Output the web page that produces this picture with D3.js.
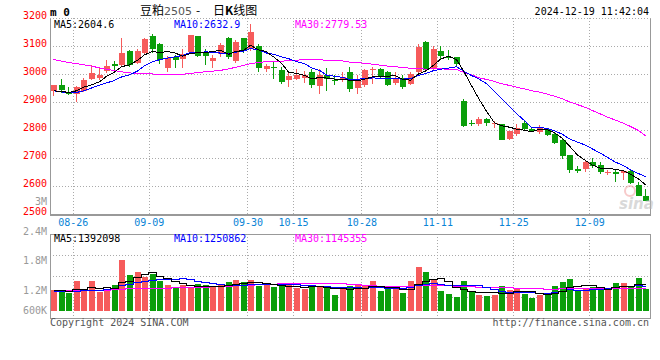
<!DOCTYPE html>
<html>
<head>
<meta charset="utf-8">
<script src="https://cdn.jsdelivr.net/npm/d3@7"></script>
<style>
  body { margin: 0; background: #fff; }
  svg text { font-family: "DejaVu Sans Mono", monospace; }
</style>
</head>
<body>
<svg id="chart" width="660" height="360"></svg>
<script>
// trading days shown on the chart
const dates = [
  '08-21','08-22','08-23','08-26','08-27','08-28','08-29','08-30','09-02','09-03',
  '09-04','09-05','09-06','09-09','09-10','09-11','09-12','09-13','09-18','09-19',
  '09-20','09-23','09-24','09-25','09-26','09-27','09-30','10-08','10-09','10-10',
  '10-11','10-14','10-15','10-16','10-17','10-18','10-21','10-22','10-23','10-24',
  '10-25','10-28','10-29','10-30','10-31','11-01','11-04','11-05','11-06','11-07',
  '11-08','11-11','11-12','11-13','11-14','11-15','11-18','11-19','11-20','11-21',
  '11-22','11-25','11-26','11-27','11-28','11-29','12-02','12-03','12-04','12-05',
  '12-06','12-09','12-10','12-11','12-12','12-13','12-16','12-17','12-18'
];

const opens = [
  2939,2960,2934,2928,2939,2981,2984,3011,3037,3031,
  3081,3041,3074,3134,3106,3022,3060,3053,3080,3134,
  3077,3046,3070,3128,3046,3128,3088,3100,3017,3026,
  3013,2980,2981,2985,3008,2957,2997,2980,2978,3007,
  2950,2960,3015,3017,3007,2969,2986,2963,3008,3114,
  3019,3081,3060,3060,2902,2826,2821,2840,2822,2821,
  2769,2785,2825,2803,2792,2803,2786,2765,2709,2661,
  2661,2686,2676,2649,2650,2646,2652,2604,2566
];
const highs = [
  2962,2981,2952,2957,2985,3031,3022,3049,3045,3130,
  3084,3090,3128,3144,3110,3066,3068,3088,3140,3136,
  3090,3068,3110,3132,3120,3130,3177,3108,3036,3043,
  3025,3007,3019,3010,3018,3019,3021,2995,3007,3025,
  2995,3019,3025,3022,3012,3007,2995,3007,3108,3118,
  3100,3100,3086,3062,2910,2836,2848,2843,2833,2823,
  2797,2821,2832,2806,2819,2807,2790,2770,2712,2673,
  2688,2700,2685,2658,2658,2658,2656,2613,2590
];
const lows = [
  2921,2932,2925,2900,2936,2978,2977,3005,3013,3025,
  3026,3036,3070,3075,3035,3006,3022,3022,3078,3060,
  3033,3022,3062,3055,3040,3075,3082,3007,3008,2983,
  2966,2954,2977,2968,2950,2927,2941,2960,2972,2936,
  2930,2954,2966,2985,2958,2960,2948,2960,3005,3010,
  3012,3055,3050,3030,2810,2816,2816,2813,2807,2763,
  2765,2777,2800,2794,2787,2780,2750,2695,2645,2646,
  2649,2664,2643,2640,2616,2620,2608,2565,2545
];
const closes = [
  2960,2942,2930,2953,2978,3002,2998,3027,3029,3075,
  3033,3081,3124,3091,3050,3058,3050,3070,3138,3065,
  3066,3057,3102,3060,3116,3085,3150,3020,3028,3023,
  2972,2992,2995,2995,2960,2995,2983,2977,2990,2945,
  2983,3013,3018,2989,2960,2986,2954,3001,3098,3013,
  3088,3064,3057,3035,2813,2823,2840,2825,2825,2765,
  2795,2807,2805,2797,2812,2783,2753,2706,2658,2653,
  2685,2671,2650,2651,2643,2655,2611,2566,2548
];
const volumes = [
  1060000,1060000,920000,1520000,1060000,1520000,970000,1100000,1320000,2600000,
  1830000,1980000,1730000,1920000,1520000,1320000,1180000,1320000,1230000,1370000,
  1320000,1230000,1320000,1470000,1570000,1470000,1570000,1280000,1320000,1220000,
  1270000,1440000,1200000,1150000,1320000,1230000,1300000,810000,1150000,1270000,
  1320000,1270000,1520000,1010000,1150000,1120000,920000,1520000,2260000,1980000,
  1610000,1010000,870000,700000,1520000,970000,810000,750000,810000,1270000,
  1060000,1150000,870000,670000,810000,920000,1270000,1470000,1630000,1060000,
  1150000,1230000,1150000,1060000,1440000,1440000,1270000,1690000,1150000
];

const ma5Head = [2940, 2938, 2934, 2940];
const ma10Head = [2940, 2936, 2933, 2934, 2940, 2950, 2960, 2968, 2977];
const ma30Head = [3052,3046,3041,3037,3033,3028,3022,3017,3012,3008,3004,3002,3001,3000,2999,
                  2999,2998,2999,3002,3005,3008,3010,3013,3018,3024,3031,3037,3041,3044];
const volMa5Head = [1060000, 1060000, 1050000, 1120000];
const volMa10Head = [1010000,1010000,1020000,1040000,1060000,1080000,1100000,1120000,1160000];
const volMa30Head = [1060000,1060000,1060000,1070000,1070000,1080000,1080000,1090000,1130000,1150000,
                     1160000,1170000,1180000,1190000,1190000,1200000,1210000,1220000,1230000,1240000,
                     1250000,1260000,1270000,1290000,1310000,1330000,1350000,1370000,1390000];

const priceTicks = [2500, 2600, 2700, 2800, 2900, 3000, 3100, 3200];
const volTicks = [600000, 1200000, 1800000, 2400000, 3000000];
const volTickLabels = ['600K', '1.2M', '1.8M', '2.4M', '3M'];
const dateTicks = ['08-26', '09-09', '09-30', '10-15', '10-28', '11-11', '11-25', '12-09'];
const priceLegend = ['MA5:2604.6', 'MA10:2632.9', 'MA30:2779.53'];
const volLegend = ['MA5:1392098', 'MA10:1250862', 'MA30:1145355'];

const RED = '#f65b5b', GREEN = '#0a9e0a', GRID = '#aaa', FRAME = '#999';
const maColors = ['#000', '#0000ff', '#ff00ff'];

const left = 50, right = 650;
const priceTop = 18, priceBottom = 214;
const volTop = 234, volBottom = 318, volBase = 311;

const svg = d3.select('#chart');

function movingAvg(values, n, head) {
  return values.map((v, i) => i < head.length ? head[i] : d3.mean(values.slice(i - n + 1, i + 1)));
}

const xs = d3.scaleLinear().domain([0, dates.length]).range([left, right]);
const barW = 6;
const barX = i => Math.round(xs(i) + 1);
const cx = i => barX(i) + barW / 2;
const y = d3.scaleLinear().domain([2500, 3200]).range([priceBottom, priceTop]);
const yVol = d3.scaleLinear().domain([0, 4000000]).range([volBase, volBase - 78]);
const yVolLabel = d3.scaleLinear().domain([1200000, 2400000]).range([293.7, 234.7]);

const dateIdx = dateTicks.map(d => dates.indexOf(d));

// ---------- grid & frames ----------
const grid = svg.append('g').attr('shape-rendering', 'crispEdges');
priceTicks.filter(v => v > 2500).forEach(v => {
  grid.append('line').attr('x1', left).attr('x2', right)
    .attr('y1', Math.round(y(v)) + 0.5).attr('y2', Math.round(y(v)) + 0.5)
    .attr('stroke', GRID).attr('stroke-dasharray', '1,2');
});
dateIdx.forEach(i => {
  const gx = Math.round(xs(i)) + 0.5;
  grid.append('line').attr('x1', gx).attr('x2', gx).attr('y1', priceTop).attr('y2', priceBottom)
    .attr('stroke', GRID).attr('stroke-dasharray', '1,2');
  grid.append('line').attr('x1', gx).attr('x2', gx).attr('y1', volTop).attr('y2', volBottom)
    .attr('stroke', GRID).attr('stroke-dasharray', '1,2');
});
d3.range(1, 4).forEach(k => {
  const gy = Math.round(volTop + (volBottom - volTop) * k / 4) + 0.5;
  grid.append('line').attr('x1', left).attr('x2', right).attr('y1', gy).attr('y2', gy)
    .attr('stroke', GRID).attr('stroke-dasharray', '1,2');
});

// ---------- candles ----------
const candles = svg.append('g').attr('shape-rendering', 'crispEdges');
const cand = candles.selectAll('g').data(dates.map((d, i) => i)).enter().append('g')
  .attr('fill', i => closes[i] >= opens[i] ? RED : GREEN);
cand.append('rect')
  .attr('x', i => barX(i) + 2).attr('width', 1)
  .attr('y', i => Math.round(y(highs[i])))
  .attr('height', i => Math.max(1, Math.round(y(lows[i])) - Math.round(y(highs[i]))));
cand.append('rect')
  .attr('x', i => barX(i)).attr('width', barW)
  .attr('y', i => Math.round(y(Math.max(opens[i], closes[i]))))
  .attr('height', i => Math.max(1, Math.round(y(Math.min(opens[i], closes[i]))) - Math.round(y(Math.max(opens[i], closes[i])))));

// ---------- price MAs ----------
const priceMAs = [movingAvg(closes, 5, ma5Head), movingAvg(closes, 10, ma10Head), movingAvg(closes, 30, ma30Head)];
const priceLine = d3.line().x((d, i) => cx(i) - 0.5).y(d => y(d));
svg.append('g').attr('shape-rendering', 'crispEdges').selectAll('path')
  .data([priceMAs[2], priceMAs[1], priceMAs[0]]).enter().append('path')
  .attr('d', priceLine).attr('fill', 'none').attr('stroke-width', 1)
  .attr('stroke', (d, k) => maColors[2 - k]);

// ---------- volume bars ----------
svg.append('g').attr('shape-rendering', 'crispEdges').selectAll('rect')
  .data(volumes).enter().append('rect')
  .attr('x', (v, i) => barX(i)).attr('width', barW)
  .attr('y', v => Math.round(yVol(v)))
  .attr('height', v => volBase - Math.round(yVol(v)))
  .attr('fill', (v, i) => closes[i] >= opens[i] ? RED : GREEN);

const volMAs = [movingAvg(volumes, 5, volMa5Head), movingAvg(volumes, 10, volMa10Head), movingAvg(volumes, 30, volMa30Head)];
const volLine = d3.line().x((d, i) => cx(i) - 0.5).y(d => Math.round(yVol(d)) + 0.5).curve(d3.curveStep);
svg.append('g').attr('shape-rendering', 'crispEdges').selectAll('path')
  .data([volMAs[2], volMAs[1], volMAs[0]]).enter().append('path')
  .attr('d', volLine).attr('fill', 'none').attr('stroke-width', 1)
  .attr('stroke', (d, k) => maColors[2 - k]);

// ---------- frames ----------
const frame = svg.append('g').attr('shape-rendering', 'crispEdges').attr('stroke', FRAME).attr('fill', 'none');
frame.append('line').attr('x1', left + 0.5).attr('x2', left + 0.5).attr('y1', priceTop).attr('y2', priceBottom + 1);
frame.append('line').attr('x1', right + 0.5).attr('x2', right + 0.5).attr('y1', priceTop).attr('y2', priceBottom + 1);
frame.append('line').attr('x1', left).attr('x2', right + 1).attr('y1', priceBottom + 1).attr('y2', priceBottom + 1).attr('stroke-width', 2);
frame.append('line').attr('x1', left).attr('x2', right + 1).attr('y1', priceTop + 0.5).attr('y2', priceTop + 0.5).attr('stroke', GRID).attr('stroke-dasharray', '1,2');
frame.append('rect').attr('x', left + 0.5).attr('y', volTop + 0.5).attr('width', right - left).attr('height', volBottom - volTop).attr('stroke-width', 1.5);

// ---------- axes labels ----------
const priceAxis = svg.append('g').attr('transform', `translate(${left - 3},0)`)
  .call(d3.axisLeft(y).tickValues(priceTicks).tickSize(0).tickPadding(0).tickFormat(d3.format('d')));
priceAxis.select('.domain').remove();
priceAxis.selectAll('text').attr('fill', '#f00').attr('font-size', 10)
  .attr('font-family', '"DejaVu Sans Mono", monospace').attr('dy', '0.05em');

const dateAxis = svg.append('g').attr('transform', `translate(0,${priceBottom + 1})`)
  .call(d3.axisBottom(xs).tickValues(dateIdx).tickSize(0).tickPadding(4).tickFormat(i => dates[i]));
dateAxis.select('.domain').remove();
dateAxis.selectAll('text').attr('fill', '#0a84d6').attr('font-size', 10)
  .attr('font-family', '"DejaVu Sans Mono", monospace');

svg.append('g').selectAll('text').data(volTicks).enter().append('text')
  .attr('x', left - 3).attr('y', v => Math.min(yVolLabel(v), 314.3))
  .attr('text-anchor', 'end').attr('font-size', 10).attr('fill', '#999')
  .text((v, k) => volTickLabels[k]);

// ---------- legends ----------
const legendX = [54, 174, 295];
svg.append('g').selectAll('text').data(priceLegend).enter().append('text')
  .attr('x', (d, k) => legendX[k]).attr('y', 28).attr('font-size', 10)
  .attr('fill', (d, k) => maColors[k]).text(d => d);
svg.append('g').selectAll('text').data(volLegend).enter().append('text')
  .attr('x', (d, k) => legendX[k]).attr('y', 242).attr('font-size', 10)
  .attr('fill', (d, k) => maColors[k]).text(d => d);

// ---------- titles ----------
svg.append('text').attr('x', 50).attr('y', 16).attr('font-size', 11).attr('font-weight', 'bold')
  .attr('fill', '#000').text('m 0');
const title = svg.append('text').attr('y', 15).attr('font-size', 12).attr('fill', '#000')
  .style('font-family', '"Noto Sans CJK SC", sans-serif');
title.append('tspan').attr('x', 140).text('豆粕');
title.append('tspan').attr('fill', '#555').attr('font-size', 11)
  .style('font-family', '"DejaVu Sans", sans-serif').text('2505');
title.append('tspan').attr('x', 196).text('-');
title.append('tspan').attr('x', 213).text('日');
title.append('tspan').attr('font-weight', 'bold').text('K');
title.append('tspan').text('线图');
svg.append('text').attr('x', 649).attr('y', 15).attr('text-anchor', 'end').attr('font-size', 10)
  .attr('fill', '#000').text('2024-12-19 11:42:04');

// watermark
const wm = svg.append('g').attr('opacity', 0.55);
wm.append('circle').attr('cx', 630).attr('cy', 191).attr('r', 5).attr('fill', 'none').attr('stroke', '#f2a0a0').attr('stroke-width', 2);
wm.append('text').attr('x', 619).attr('y', 209).attr('font-size', 15).attr('font-weight', 'bold')
  .attr('font-style', 'italic').attr('fill', '#bbb').style('font-family', '"DejaVu Sans", sans-serif').text('sina');

// footer
svg.append('text').attr('x', 50).attr('y', 326).attr('font-size', 10).attr('fill', '#555')
  .text('Copyright 2024 SINA.COM');
svg.append('text').attr('x', 649).attr('y', 326).attr('text-anchor', 'end').attr('font-size', 10)
  .attr('fill', '#555').text('http://finance.sina.com.cn');
</script>
</body>
</html>
